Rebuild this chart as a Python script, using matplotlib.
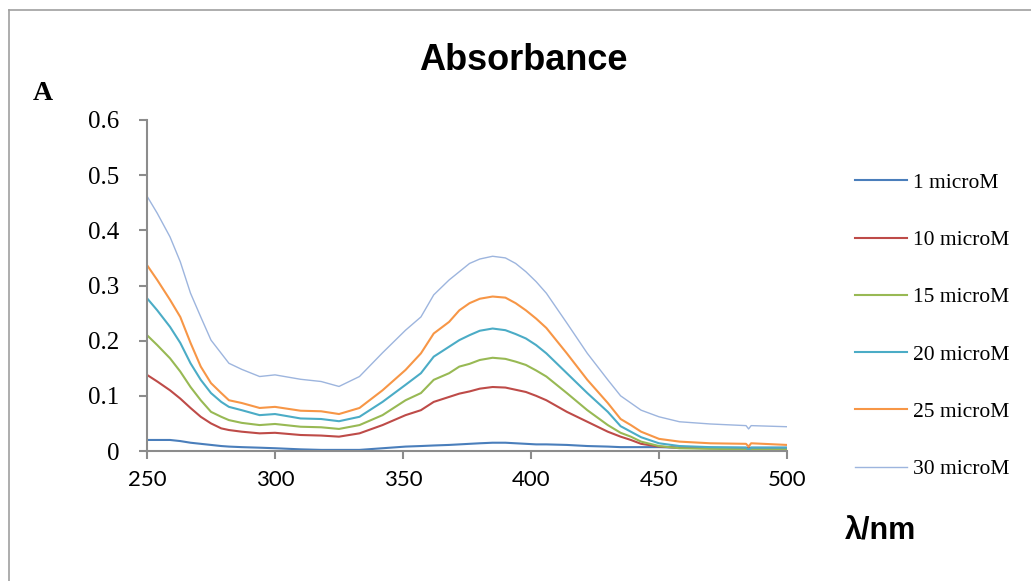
import matplotlib
matplotlib.use("Agg")
import matplotlib.pyplot as plt
from matplotlib.lines import Line2D

# wavelengths (nm)
wavelength = [250, 254, 259, 263, 267, 271, 275, 279, 282, 287, 294, 300, 310, 318, 325,
              333, 342, 351, 357, 362, 368, 372, 376, 380, 385, 390, 394, 398, 402, 406,
              414, 422, 430, 435, 439, 443, 450, 458, 470, 484, 485, 486, 500]

a_1uM = [0.020, 0.020, 0.020, 0.018, 0.015, 0.013, 0.011, 0.009, 0.008, 0.007, 0.006,
         0.005, 0.003, 0.002, 0.002, 0.002, 0.005, 0.008, 0.009, 0.010, 0.011, 0.012,
         0.013, 0.014, 0.015, 0.015, 0.014, 0.013, 0.012, 0.012, 0.011, 0.009, 0.008,
         0.007, 0.007, 0.007, 0.007, 0.006, 0.006, 0.006, 0.006, 0.006, 0.006]
a_10uM = [0.138, 0.126, 0.110, 0.095, 0.078, 0.062, 0.050, 0.041, 0.038, 0.035, 0.032,
          0.033, 0.029, 0.028, 0.026, 0.032, 0.047, 0.065, 0.074, 0.089, 0.098, 0.104,
          0.108, 0.113, 0.116, 0.115, 0.111, 0.107, 0.100, 0.092, 0.071, 0.053, 0.035,
          0.026, 0.020, 0.013, 0.008, 0.006, 0.005, 0.005, 0.005, 0.005, 0.005]
a_15uM = [0.210, 0.192, 0.168, 0.144, 0.116, 0.092, 0.071, 0.062, 0.056, 0.051, 0.047,
          0.049, 0.044, 0.043, 0.040, 0.047, 0.065, 0.092, 0.105, 0.129, 0.141, 0.153,
          0.158, 0.165, 0.169, 0.167, 0.162, 0.156, 0.146, 0.135, 0.105, 0.074, 0.047,
          0.033, 0.026, 0.017, 0.009, 0.005, 0.004, 0.003, 0.003, 0.003, 0.003]
a_20uM = [0.277, 0.255, 0.225, 0.196, 0.159, 0.129, 0.105, 0.089, 0.080, 0.074, 0.065,
          0.067, 0.059, 0.058, 0.054, 0.062, 0.089, 0.120, 0.141, 0.171, 0.189, 0.201,
          0.210, 0.218, 0.222, 0.219, 0.212, 0.204, 0.192, 0.177, 0.141, 0.105, 0.071,
          0.045, 0.035, 0.025, 0.014, 0.009, 0.007, 0.006, 0.002, 0.006, 0.006]
a_25uM = [0.337, 0.310, 0.274, 0.243, 0.196, 0.153, 0.123, 0.105, 0.092, 0.087, 0.078,
          0.080, 0.073, 0.072, 0.067, 0.078, 0.110, 0.147, 0.177, 0.213, 0.234, 0.255,
          0.268, 0.276, 0.280, 0.278, 0.268, 0.255, 0.240, 0.223, 0.177, 0.129, 0.087,
          0.058, 0.047, 0.035, 0.022, 0.017, 0.014, 0.013, 0.008, 0.014, 0.011]
a_30uM = [0.462, 0.431, 0.388, 0.343, 0.286, 0.243, 0.201, 0.177, 0.159, 0.148, 0.135,
          0.138, 0.130, 0.126, 0.117, 0.135, 0.178, 0.219, 0.243, 0.283, 0.310, 0.325,
          0.340, 0.348, 0.353, 0.350, 0.340, 0.325, 0.307, 0.286, 0.232, 0.177, 0.129,
          0.100, 0.087, 0.074, 0.062, 0.053, 0.049, 0.046, 0.040, 0.046, 0.044]

series = [a_1uM, a_10uM, a_15uM, a_20uM, a_25uM, a_30uM]
labels = ["1 microM", "10 microM", "15 microM", "20 microM", "25 microM", "30 microM"]
colors = ["#4A7EBB", "#BE4B48", "#98B954", "#4BACC6", "#F79646", "#9DB5DE"]
widths = [1.5, 1.5, 1.5, 1.5, 1.5, 1.0]

x_ticks = [250, 300, 350, 400, 450, 500]
y_ticks = [0, 0.1, 0.2, 0.3, 0.4, 0.5, 0.6]
y_tick_labels = ["0", "0.1", "0.2", "0.3", "0.4", "0.5", "0.6"]

W, H = 1031, 581
fig = plt.figure(figsize=(W / 100, H / 100), dpi=100)
ax = fig.add_axes([147 / W, 1 - 451 / H, 640 / W, 331 / H])

for vals, lab, c, lw in zip(series, labels, colors, widths):
    ax.plot(wavelength, vals, color=c, lw=lw, label=lab, solid_joinstyle="round")

ax.set_xlim(250, 500)
ax.set_ylim(0, 0.6)
ax.set_xticks(x_ticks)
ax.set_xticklabels([str(t) for t in x_ticks], family="Lato", fontsize=16)
ax.set_yticks(y_ticks)
ax.set_yticklabels(y_tick_labels, family="Liberation Serif", fontsize=18)

for side in ["top", "right"]:
    ax.spines[side].set_visible(False)
for side in ["left", "bottom"]:
    ax.spines[side].set_color("#8C8C8C")
    ax.spines[side].set_linewidth(1.5)
ax.tick_params(axis="y", direction="out", length=6, width=1.5, color="#8C8C8C", pad=14)
ax.tick_params(axis="x", direction="out", length=6, width=1.5, color="#8C8C8C", pad=8)

# titles and axis captions
fig.text(523 / W, 1 - 60 / H, "Absorbance", ha="center", va="center",
         family="Liberation Sans", fontweight="bold", fontsize=26)
fig.text(33 / W, 1 - 93 / H, "A", ha="left", va="center",
         family="Liberation Serif", fontweight="bold", fontsize=20)
fig.text(880 / W, 1 - 531 / H, "λ/nm", ha="center", va="center",
         family="Liberation Sans", fontweight="bold", fontsize=22)

# legend
fig.legend(loc="center left", bbox_to_anchor=(855 / W, 1 - 326 / H),
           frameon=False, prop={"family": "Liberation Serif", "size": 15.5},
           handlelength=2.4, handletextpad=0.3, labelspacing=1.73,
           borderpad=0, borderaxespad=0)

# outer frame (partial box like the source)
fig.add_artist(Line2D([9 / W, 9 / W], [0, 1 - 10 / H], transform=fig.transFigure,
                      color="#A0A0A0", lw=1.2))
fig.add_artist(Line2D([9 / W, 1], [1 - 10 / H, 1 - 10 / H], transform=fig.transFigure,
                      color="#A0A0A0", lw=1.2))

fig.savefig("out.png", dpi=100)
